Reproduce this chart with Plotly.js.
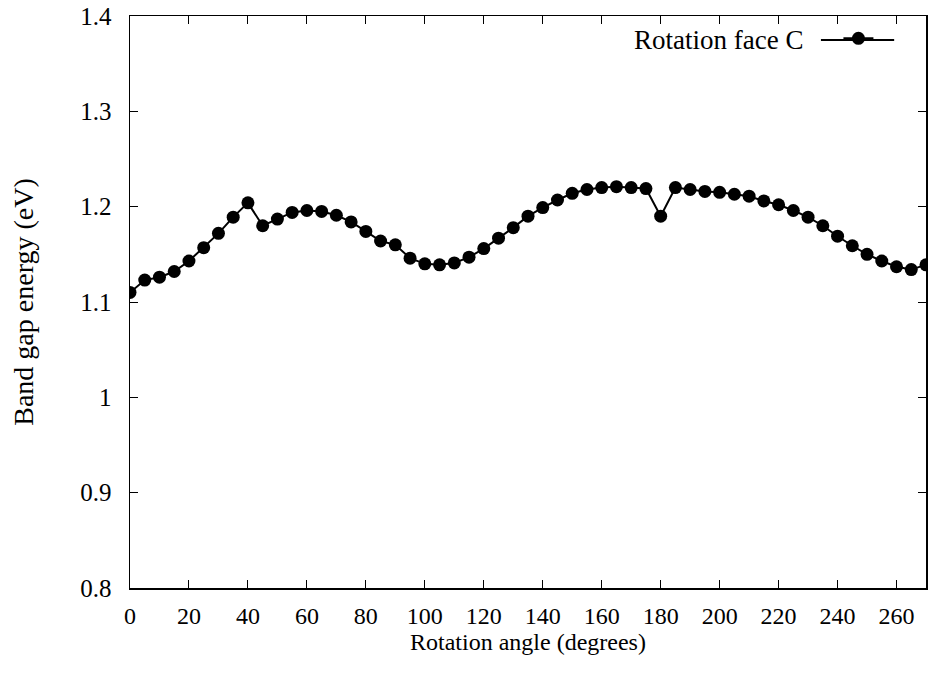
<!DOCTYPE html>
<html><head><meta charset="utf-8">
<script src="https://cdn.plot.ly/plotly-3.0.1.min.js"></script>
<style>html,body{margin:0;padding:0;background:#fff}#chart{width:928px;height:674px}</style>
</head><body><div id="chart"></div>
<script>
const angles = [0,5,10,15,20,25,30,35,40,45,50,55,60,65,70,75,80,85,90,95,100,105,110,115,120,125,130,135,140,145,150,155,160,165,170,175,180,185,190,195,200,205,210,215,220,225,230,235,240,245,250,255,260,265,270];
const bandGap = [1.110,1.123,1.126,1.132,1.143,1.157,1.172,1.189,1.204,1.180,1.187,1.194,1.196,1.195,1.191,1.184,1.174,1.164,1.160,1.146,1.140,1.139,1.141,1.147,1.156,1.167,1.178,1.190,1.199,1.207,1.214,1.218,1.220,1.221,1.220,1.219,1.190,1.220,1.218,1.216,1.215,1.213,1.211,1.206,1.202,1.196,1.189,1.180,1.169,1.159,1.150,1.143,1.137,1.134,1.139];
const seriesName = "Rotation face C";
const xTitle = "Rotation angle (degrees)";
const yTitle = "Band gap energy (eV)";

const fam = "'Liberation Serif', 'Times New Roman', serif";
const f = (s) => ({family: fam, size: s, color: "#000"});
const trace = {
  x: angles, y: bandGap, type: "scatter", mode: "lines+markers",
  name: " ",
  line: {color: "#000", width: 2},
  marker: {color: "#000", size: 13},
  cliponaxis: true
};
const axisCommon = {
  showgrid: false, zeroline: false, showline: true, linecolor: "#000", linewidth: 1.5,
  mirror: "allticks", ticks: "inside", ticklen: 8, tickwidth: 1, tickcolor: "#000"
};
const layout = {
  width: 928, height: 674,
  margin: {l: 130, r: 2, t: 16, b: 86},
  paper_bgcolor: "#fff", plot_bgcolor: "#fff",
  font: f(24),
  showlegend: true,
  legend: {
    x: 0.956, xanchor: "right", y: 1.003, yanchor: "top",
    bgcolor: "rgba(0,0,0,0)", font: f(27),
    title: {text: seriesName + "\u00a0\u00a0\u00a0\u00a0", side: "left", font: f(27)}
  },
  shapes: [
    {type: "line", xref: "paper", yref: "paper", x0: 0.868, x1: 0.960, y0: 0.958, y1: 0.958,
     line: {color: "#000", width: 2}}
  ],
  xaxis: Object.assign({}, axisCommon, {
    range: [0, 270], dtick: 20, tick0: 0, tickfont: f(24),
    title: {text: xTitle, font: f(24), standoff: 4},
    ticklabelstandoff: 6
  }),
  yaxis: Object.assign({}, axisCommon, {
    range: [0.8, 1.4], dtick: 0.1, tick0: 0.8, tickfont: f(25),
    title: {text: yTitle, font: f(28), standoff: 38},
    ticklabelstandoff: 12
  })
};
Plotly.newPlot("chart", [trace], layout, {displayModeBar: false, staticPlot: true});
</script></body></html>
